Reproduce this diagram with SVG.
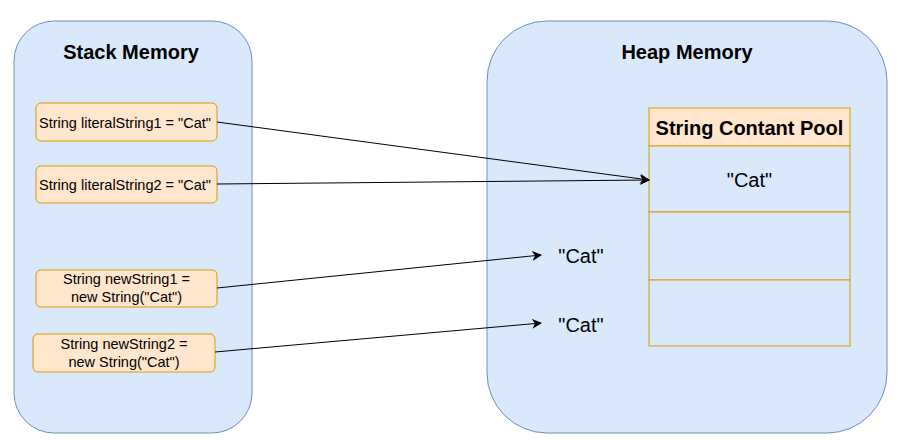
<svg xmlns="http://www.w3.org/2000/svg" width="898" height="440" viewBox="0 0 898 440">
<defs>
<style>
.mem{fill:#dae8fc;stroke:#6c8ebf;stroke-width:1}
.box{fill:#ffe6cc;stroke:#d79b00;stroke-width:1}
.cell{fill:#dae8fc;stroke:#d79b00;stroke-width:1}
.title{font-family:"Liberation Sans",Arial,sans-serif;font-weight:bold;font-size:20px;fill:#000;text-anchor:middle}
.lbl{font-family:"Liberation Sans",Arial,sans-serif;font-size:14.5px;fill:#000;text-anchor:middle}
.big{font-family:"Liberation Sans",Arial,sans-serif;font-size:20px;fill:#000;text-anchor:middle}
.conn{stroke:#000;stroke-width:1;fill:none;marker-end:url(#arr)}
</style>
<marker id="arr" viewBox="0 0 10 10" refX="9" refY="5" markerWidth="10" markerHeight="10" markerUnits="userSpaceOnUse" orient="auto">
<path d="M0,0 L10,5 L0,10 L3,5 Z" fill="#000"/>
</marker>
</defs>
<rect width="898" height="440" fill="#fff"/>
<g id="stack">
<rect class="mem" x="14" y="21" width="238" height="412" rx="40" ry="40"/>
<text class="title" x="131" y="59">Stack Memory</text>
</g>
<g id="heap">
<rect class="mem" x="487" y="21" width="400" height="412" rx="60" ry="60"/>
<text class="title" x="687" y="59">Heap Memory</text>
</g>
<g id="literal1">
<rect class="box" x="36" y="103" width="181" height="38" rx="5" ry="5"/>
<text class="lbl" x="125" y="128">String literalString1 = "Cat"</text>
</g>
<g id="literal2">
<rect class="box" x="36" y="166" width="181" height="37" rx="5" ry="5"/>
<text class="lbl" x="125" y="190">String literalString2 = "Cat"</text>
</g>
<g id="new1">
<rect class="box" x="36" y="270" width="181" height="37" rx="5" ry="5"/>
<text class="lbl" x="126.5" y="284">String newString1 =</text>
<text class="lbl" x="126.5" y="302">new String("Cat")</text>
</g>
<g id="new2">
<rect class="box" x="33" y="334" width="182" height="38" rx="5" ry="5"/>
<text class="lbl" x="124" y="349">String newString2 =</text>
<text class="lbl" x="124" y="367">new String("Cat")</text>
</g>
<g id="pool">
<rect class="box" x="649" y="108" width="201" height="38"/>
<text class="title" x="749.5" y="135">String Contant Pool</text>
<rect class="cell" x="649" y="146" width="201" height="66"/>
<text class="big" x="749.5" y="187">"Cat"</text>
<rect class="cell" x="649" y="212" width="201" height="68"/>
<rect class="cell" x="649" y="280" width="201" height="66"/>
</g>
<g id="cat1">
<text class="big" x="581" y="263">"Cat"</text>
</g>
<g id="cat2">
<text class="big" x="581" y="332">"Cat"</text>
</g>
<g id="connectors">
<line class="conn" x1="217" y1="122" x2="649" y2="180"/>
<line class="conn" x1="217" y1="184" x2="649" y2="180"/>
<line class="conn" x1="217" y1="288" x2="541" y2="255"/>
<line class="conn" x1="215" y1="352" x2="541" y2="323"/>
</g>
</svg>
